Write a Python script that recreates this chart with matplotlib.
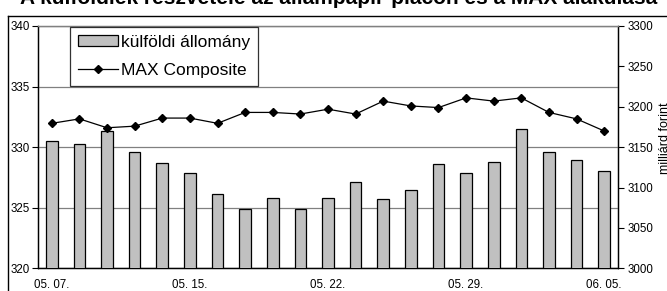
import matplotlib
matplotlib.use("Agg")
import matplotlib.pyplot as plt
from matplotlib.lines import Line2D
import numpy as np

plt.rcParams['font.family'] = ['Liberation Sans', 'DejaVu Sans']

title = "A külföldiek részvétele az állampapír-piacon és a MAX alakulása"
categories = ["05. 07.", "", "", "", "", "05. 15.", "", "", "", "", "05. 22.",
              "", "", "", "", "05. 29.", "", "", "", "", "06. 05."]
foreign_holdings = [330.5, 330.25, 331.3, 329.6, 328.7, 327.9, 326.1, 324.9, 325.8, 324.9,
                    325.8, 327.1, 325.7, 326.45, 328.6, 327.9, 328.8, 331.5, 329.6, 328.95, 328.0]
max_composite = [3179.5, 3185, 3174, 3176, 3186, 3186, 3179.5, 3193, 3193, 3191,
                 3197, 3191, 3207, 3201, 3199, 3211, 3207, 3211, 3193, 3185, 3170]
bar_label = "külföldi állomány"
line_label = "MAX Composite"
right_label = "milliárd forint"

W, H = 667, 291
fig = plt.figure(figsize=(W / 100, H / 100), dpi=100)
ax = fig.add_axes([38 / W, 1 - 268.3 / H, 580 / W, 242.3 / H])
ax2 = ax.twinx()

x = np.arange(len(categories))
bars = ax.bar(x, foreign_holdings, width=0.42, color='#C0C0C0', edgecolor='black',
              linewidth=0.9, zorder=3)
ax.set_ylim(320, 340)
ax.set_xlim(-0.5, len(categories) - 0.5)
ax.set_yticks([320, 325, 330, 335, 340])
ax.yaxis.grid(True, color='#808080', linewidth=0.9, zorder=0)
ax.set_axisbelow(True)
ax.set_xticks(x)
ax.set_xticklabels(categories)
ax.tick_params(axis='x', length=0, labelsize=8.3, pad=8)
ax.tick_params(axis='y', direction='out', length=4, labelsize=8.3, pad=2, width=0.8)

ax2.set_ylim(3000, 3300)
ax2.set_yticks(np.arange(3000, 3301, 50))
ax2.tick_params(axis='y', direction='out', length=4, labelsize=8.3, pad=3, width=0.8)

for a in (ax, ax2):
    a.spines['top'].set_color('#808080')
    a.spines['left'].set_color('black')
    a.spines['right'].set_color('black')
    a.spines['bottom'].set_color('black')
    for s in a.spines.values():
        s.set_linewidth(0.9)

ax2.set_zorder(0)
ax.set_zorder(1)
ax.patch.set_visible(False)
ln, = ax.plot(x, max_composite, color='black', linewidth=0.9, marker='D',
              markersize=4.5, zorder=5, transform=ax2.transData)

leg = ax.legend([bars, ln], [bar_label, line_label], loc='upper left',
                bbox_to_anchor=((70 - 38) / 580, 1 - (27 - 26) / 242.3),
                fontsize=12.5, frameon=True, fancybox=False, edgecolor='black',
                borderpad=0.45, handlelength=2.3, labelspacing=0.75, handletextpad=0.2,
                borderaxespad=0, handleheight=0.6)
leg.get_frame().set_linewidth(0.9)
leg.set_zorder(10)

fig.text(659 / W, 1 - 138 / H, right_label, rotation=90, ha='left', va='center',
         fontsize=9)

# chart border
fig.add_artist(Line2D([8 / W, 8 / W], [0, 1 - 16 / H], transform=fig.transFigure,
                      color='black', linewidth=1))
fig.add_artist(Line2D([8 / W, 1], [1 - 16 / H, 1 - 16 / H], transform=fig.transFigure,
                      color='black', linewidth=1))

fig.text(0.5 + 5.5 / W, 1 - 4 / H, title, ha='center', va='baseline', fontsize=15.0,
         fontweight='bold')

fig.savefig('out.png', dpi=100)
